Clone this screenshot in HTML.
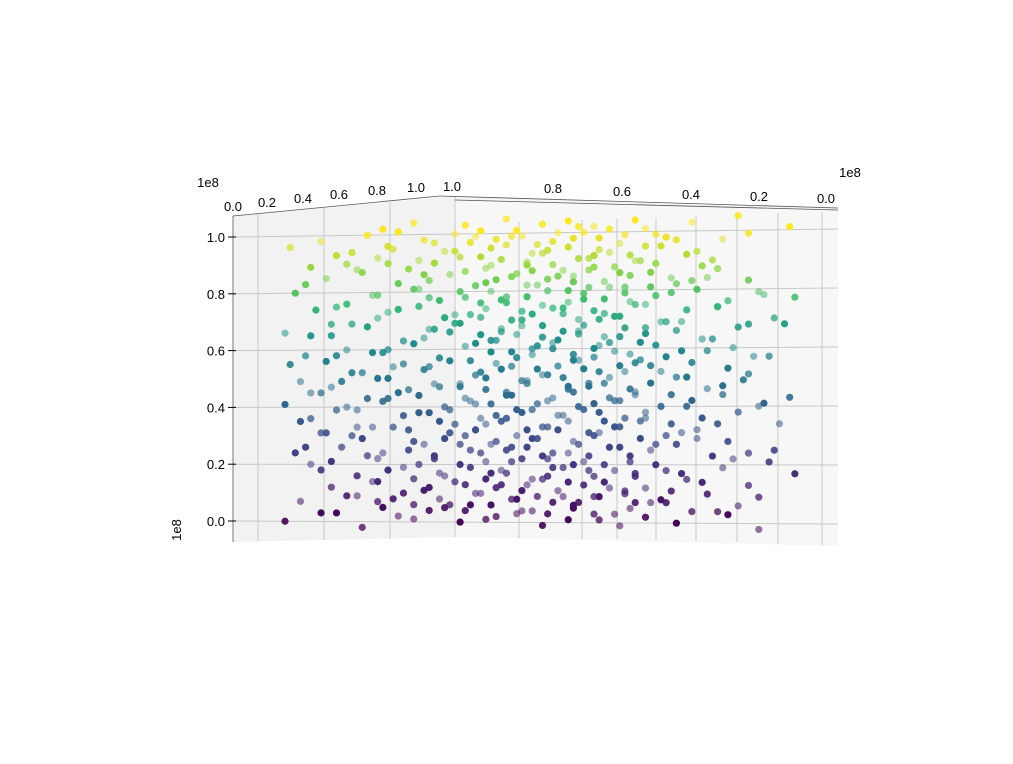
<!DOCTYPE html>
<html><head><meta charset="utf-8"><style>
body{margin:0;background:#fff;}
svg{display:block;font-family:"Liberation Sans",sans-serif;}
</style></head><body>
<svg id="chart" width="1013" height="764" viewBox="0 0 1013 764">
<g>
<polygon points="233,216 455,196 455,537 233,542" fill="#f2f2f2"/>
<polygon points="455,196 838,208 838,546 455,537" fill="#f7f7f7"/>
</g>
<g id="grid"></g>
<g id="axes"></g>
<g id="pts"></g>
</svg>
<script>
const zTicks=[0,0.2,0.4,0.6,0.8,1.0];
const leftXTicks=["0.0","0.2","0.4","0.6","0.8","1.0"];
const rightYTicks=["1.0","0.8","0.6","0.4","0.2","0.0"];
const zBands=[102,96,90,84,78,72,66,60,54,48,42,36,30,24,18,12,6,1];
const uRows=[
[.19,.25,.33,.35,.38,.43,.46,.5,.55,.58,.6,.63,.68,.72,.79,.88,.98],
[.01,.07,.13,.2,.27,.31,.36,.4,.44,.48,.52,.56,.61,.65,.7,.74,.8,.85,.9],
[.05,.12,.18,.24,.29,.34,.39,.42,.47,.5,.54,.57,.6,.64,.68,.72,.78,.84],
[.08,.15,.22,.28,.32,.37,.41,.45,.49,.53,.56,.59,.63,.67,.71,.76,.82,.9],
[.02,.1,.17,.25,.3,.35,.4,.43,.47,.51,.55,.58,.62,.66,.7,.75,.8,.86,.93,.99],
[.06,.13,.2,.26,.31,.36,.39,.44,.48,.52,.57,.6,.64,.68,.73,.78,.84,.95],
[0,.09,.16,.23,.28,.33,.38,.42,.46,.5,.54,.58,.62,.66,.7,.74,.81,.88,.97],
[.04,.12,.19,.25,.3,.35,.4,.44,.48,.52,.56,.6,.63,.67,.72,.77,.83,.91],
[.01,.08,.15,.21,.27,.32,.37,.41,.45,.49,.53,.57,.61,.65,.69,.73,.79,.86,.94],
[.05,.11,.18,.24,.29,.34,.39,.43,.47,.51,.55,.59,.63,.67,.71,.76,.82,.89],
[0,.07,.14,.2,.26,.31,.36,.4,.44,.48,.52,.56,.6,.64,.68,.73,.79,.85,.92,.98],
[.03,.1,.17,.23,.28,.33,.38,.42,.46,.5,.54,.58,.62,.66,.7,.75,.81,.88,.96],
[.08,.15,.21,.27,.32,.37,.41,.45,.49,.53,.57,.61,.65,.69,.74,.8,.86],
[.02,.11,.18,.24,.29,.34,.39,.43,.47,.51,.55,.59,.63,.67,.71,.76,.83,.9],
[.05,.14,.2,.26,.31,.36,.4,.44,.48,.52,.56,.6,.64,.68,.72,.78,.85,.94,.99],
[.09,.17,.23,.28,.33,.38,.42,.46,.5,.54,.58,.62,.66,.7,.75,.81,.92],
[.03,.12,.19,.25,.3,.35,.4,.44,.48,.52,.56,.6,.64,.68,.73,.79,.88],
[0,.07,.15,.22,.28,.34,.39,.45,.5,.55,.6,.65,.7,.76,.84,.92]];
const zBands2=[99,93,87,81,75,69,63,57,51,45,39,33,27,21,15,9,4];
const uRows2=[
[.16,.22,.29,.37,.41,.45,.49,.53,.57,.61,.66,.7,.76],
[.1,.21,.26,.33,.38,.43,.47,.51,.55,.59,.63,.67,.73,.83],
[.14,.2,.27,.35,.4,.44,.48,.52,.56,.6,.65,.69,.75,.81],
[.04,.18,.26,.34,.39,.43,.47,.51,.55,.59,.62,.66,.71,.79,.92],
[.12,.22,.28,.33,.38,.42,.46,.5,.54,.58,.62,.67,.72,.84],
[.09,.18,.29,.34,.38,.42,.46,.5,.54,.57,.61,.65,.7,.77,.9],
[.05,.2,.27,.32,.37,.41,.45,.49,.53,.57,.61,.65,.69,.76,.87],
[.1,.17,.23,.3,.36,.4,.44,.48,.52,.56,.6,.64,.68,.74,.82],
[.03,.13,.2,.28,.34,.38,.42,.46,.5,.54,.58,.62,.66,.71,.78,.9],
[.09,.16,.22,.3,.35,.39,.43,.47,.51,.55,.59,.63,.68,.75,.85],
[.05,.12,.19,.26,.32,.37,.41,.45,.49,.53,.57,.61,.65,.7,.78,.93],
[.07,.14,.24,.3,.35,.39,.43,.47,.51,.55,.59,.64,.69,.77,.84],
[.04,.13,.19,.25,.31,.36,.4,.44,.48,.52,.56,.6,.65,.72,.8,.95],
[.09,.16,.23,.29,.34,.38,.42,.46,.5,.54,.58,.62,.67,.74,.87],
[.07,.18,.25,.3,.35,.39,.43,.47,.51,.55,.59,.63,.68,.77,.9],
[.14,.21,.27,.32,.37,.41,.45,.49,.53,.57,.61,.66,.71,.82],
[.1,.18,.25,.31,.36,.41,.46,.51,.56,.61,.67,.74,.86]];
const zJitter=[0,2,-2,1,-1,3,-3,1,2,-2,0,-1,2,-3,1,3,-1,0,2,-2];

const NS="http://www.w3.org/2000/svg";
function mk(t,a,p){const e=document.createElementNS(NS,t);for(const k in a)e.setAttribute(k,a[k]);p.appendChild(e);return e;}
function zL(z){return 521-z*284;}
function zR(z){return 524-z*295;}
function sx(u){return 285+u*515;}
function sy(u,z){const t=(sx(u)-233)/605;return zL(z)*(1-t)+zR(z)*t;}
const V=[[0,[68,1,84]],[.13,[72,36,117]],[.25,[65,68,135]],[.38,[53,95,141]],[.5,[42,120,142]],[.63,[32,144,141]],[.75,[53,183,121]],[.88,[144,215,67]],[1,[253,231,37]]];
function viridis(v){v=Math.max(0,Math.min(1,v));for(let i=1;i<V.length;i++){if(v<=V[i][0]){const a=V[i-1],b=V[i],t=(v-a[0])/(b[0]-a[0]);return "rgb("+a[1].map((c,j)=>Math.round(c+(b[1][j]-c)*t)).join(",")+")";}}return "rgb(253,231,37)";}

const grid=document.getElementById('grid'),axes=document.getElementById('axes'),pts=document.getElementById('pts');
const vLines=[[258,214,541],[324,208,540],[390,202,539],[455,196,537],[519,222,538],[582,220,539],[617,219,539],[656,218,540],[696,216,541],[737,214,542],[778,213,544],[822,212,545]];
vLines.forEach(v=>{const l=mk('line',{x1:v[0],y1:v[1],x2:v[0],y2:v[2],stroke:'#c8c8c8','stroke-width':1},grid);

});
zTicks.forEach(z=>{const l=mk('line',{x1:233,y1:zL(z),x2:838,y2:zR(z),stroke:'#c8c8c8','stroke-width':1},grid);

});
[[233,216,440,196],[440,196,838,208],[233,216,233,542],[455,200,838,210]].forEach(e=>{const l=mk('line',{x1:e[0],y1:e[1],x2:e[2],y2:e[3],stroke:'#555','stroke-width':0.8},axes);

});
zTicks.forEach(z=>{const y=zL(z);mk('line',{x1:228,y1:y,x2:236,y2:y,stroke:'#000'},axes);
const t=mk('text',{x:225,y:y+5,'font-size':13,'text-anchor':'end'},axes);t.textContent=z.toFixed(1);

});
const lx=[233,267,303,339,377,416],ly=[211,207,203,199,195,192];
leftXTicks.forEach((s,i)=>{const t=mk('text',{x:lx[i],y:ly[i],'font-size':13,'text-anchor':'middle'},axes);t.textContent=s;

});
const rx=[452,553,622,691,759,826],ry=[191,193,196,199,201,203];
rightYTicks.forEach((s,i)=>{const t=mk('text',{x:rx[i],y:ry[i],'font-size':13,'text-anchor':'middle'},axes);t.textContent=s;

});
[[208,187,'x-offset-label'],[850,177,'y-offset-label']].forEach(o=>{const t=mk('text',{x:o[0],y:o[1],'font-size':13,'text-anchor':'middle'},axes);t.textContent='1e8';

});
const zo=mk('text',{x:0,y:0,'font-size':13,'text-anchor':'middle',transform:'translate(181,530) rotate(-90)'},axes);zo.textContent='1e8';


let k=0;const op=[1,0.75,0.55,0.9];
function drawBands(bands,rows){bands.forEach((zb,r)=>{rows[r].forEach(u=>{const z=(zb+zJitter[k%zJitter.length])/100;
const c=mk('circle',{cx:sx(u),cy:sy(u,z),r:3.6,fill:viridis(z),'fill-opacity':op[k%4]},pts);

k++;});});}
drawBands(zBands,uRows);
drawBands(zBands2,uRows2);
</script>
</body></html>
